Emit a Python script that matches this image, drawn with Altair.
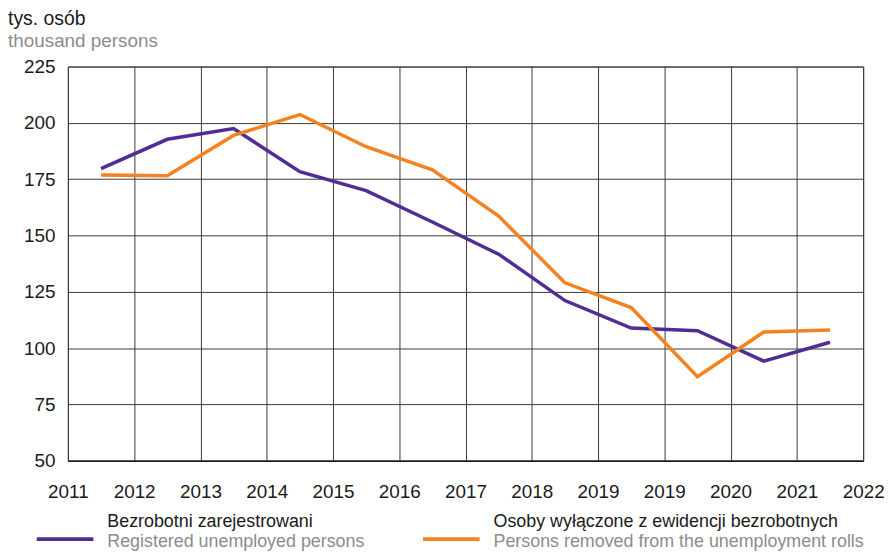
import json
import altair as alt
import pandas as pd

x_labels = ["2011", "2012", "2013", "2014", "2015", "2016", "2017", "2018",
            "2019", "2019", "2020", "2021", "2022"]
periods = list(range(12))
registered = [179.7, 192.7, 197.5, 178.3, 169.9, 156.0, 141.7, 121.1, 108.9, 107.7, 94.2, 102.6]
removed = [176.8, 176.5, 194.4, 203.7, 189.4, 179.1, 158.6, 129.0, 118.0, 87.3, 107.1, 108.0]
y_ticks = [50, 75, 100, 125, 150, 175, 200, 225]

PURPLE = "#4f2d94"
ORANGE = "#f58220"
FONT = "Liberation Sans"
FS = 19
LFS = 18

rows = []
for p, a, b in zip(periods, registered, removed):
    rows.append({"pos": p + 0.5, "value": a, "series": "reg"})
    rows.append({"pos": p + 0.5, "value": b, "series": "rem"})
df = pd.DataFrame(rows)

label_expr = json.dumps(x_labels) + "[datum.value]"

x_enc = alt.X("pos:Q",
              scale=alt.Scale(domain=[0, 12], nice=False, zero=False),
              axis=alt.Axis(values=list(range(13)), labelExpr=label_expr, title=None,
                            grid=True, gridColor="#3a3a3a", gridWidth=1,
                            ticks=False, domain=True, domainColor="#1a1a1a", domainWidth=1.5,
                            labelFont=FONT, labelFontSize=FS, labelColor="#1a1a1a",
                            labelPadding=22, labelFlush=False, labelOverlap=False))
y_enc = alt.Y("value:Q",
              scale=alt.Scale(domain=[50, 225], nice=False, zero=False),
              axis=alt.Axis(values=y_ticks, title=None, grid=True, gridColor="#3a3a3a",
                            gridWidth=1, ticks=False, domain=False,
                            labelFont=FONT, labelFontSize=FS, labelColor="#1a1a1a",
                            labelPadding=13))

lines = alt.Chart(df).mark_line(strokeWidth=3.5, strokeJoin="miter").encode(
    x=x_enc, y=y_enc,
    color=alt.Color("series:N", scale=alt.Scale(domain=["reg", "rem"], range=[PURPLE, ORANGE]),
                    legend=None),
)

def txt(s, x, y, color, size=FS):
    return alt.Chart(pd.DataFrame({"t": [s]})).mark_text(
        align="left", baseline="alphabetic", font=FONT, fontSize=size, color=color
    ).encode(text="t:N", x=alt.value(x), y=alt.value(y))

def swatch(x1, x2, y, color):
    return alt.Chart(pd.DataFrame({"a": [0]})).mark_rule(strokeWidth=4, color=color).encode(
        x=alt.value(x1), x2=alt.value(x2), y=alt.value(y))

OX, OY = 68.3, 65
layers = [
    lines,
    txt("tys. osób", 8 - OX, 23 - OY, "#1a1a1a", 19.5),
    txt("thousand persons", 8 - OX, 45 - OY, "#8c8c8c", 19),
    swatch(37 - OX, 94 - OX, 541 - OY, PURPLE),
    txt("Bezrobotni zarejestrowani", 108 - OX, 529 - OY, "#1a1a1a", LFS),
    txt("Registered unemployed persons", 108 - OX, 549 - OY, "#8c8c8c", LFS),
    swatch(426 - OX, 483 - OX, 541 - OY, ORANGE),
    txt("Osoby wyłączone z ewidencji bezrobotnych", 497 - OX, 529 - OY, "#1a1a1a", LFS),
    txt("Persons removed from the unemployment rolls", 497 - OX, 549 - OY, "#8c8c8c", LFS),
]

chart = alt.layer(*layers).properties(
    width=801, height=397,
    autosize=alt.AutoSizeParams(type="none"),
    padding={"left": 60.3, "top": 57, "right": 21, "bottom": 90},
).configure_view(stroke="#3a3a3a", strokeWidth=1)

chart.save("out.html", embed_options={"renderer": "svg", "actions": False})
